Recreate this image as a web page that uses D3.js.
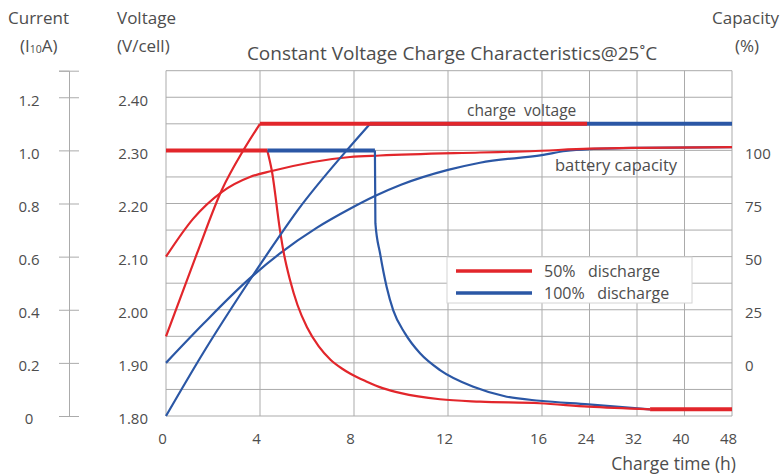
<!DOCTYPE html>
<html>
<head>
<meta charset="utf-8">
<script src="https://cdn.jsdelivr.net/npm/d3@7"></script>
<style>
  body { margin: 0; background: #fff; }
  text { font-family: "Open Sans", sans-serif; fill: #4d4d4d; }
</style>
</head>
<body>
<svg width="783" height="475"></svg>
<script>
// tick values
const timeTicks = [0, 4, 8, 12, 16, 24, 32, 40, 48]
const voltTicks = [1.8, 1.9, 2.0, 2.1, 2.2, 2.3, 2.4]
const voltGrid = [1.80, 1.85, 1.90, 1.95, 2.00, 2.05, 2.10, 2.15, 2.20, 2.25, 2.30, 2.35, 2.40, 2.45]
const currentTicks = [0, 0.2, 0.4, 0.6, 0.8, 1.0, 1.2, 1.3]
const capTicks = [0, 25, 50, 75, 100]

// [time h, value]
const redVoltage = [[0, 1.95], [1.31, 2.105], [2.37, 2.225], [3.29, 2.30], [4.0, 2.35]]
const redVoltageFlat = [[4.0, 2.35], [23.6, 2.35]]
const blueVoltage = [[0, 1.80], [1.6, 1.92], [3.57, 2.056], [4.85, 2.14], [5.6, 2.187], [7.69, 2.30], [8.68, 2.35]]
const blueVoltageFlat = [[8.68, 2.35], [48, 2.35]]

const redCurrentFlat = [[0, 1.0], [4.31, 1.0]]
const redCurrent = [[4.31, 1.0], [4.5, 0.925], [4.85, 0.70], [4.99, 0.624], [5.28, 0.511], [5.6, 0.417], [6.0, 0.334],
  [6.5, 0.262], [7.0, 0.212], [7.5, 0.178], [7.83, 0.16], [8.5, 0.131], [9.25, 0.104], [10, 0.086], [11.66, 0.063],
  [13.36, 0.054], [15.9, 0.048], [23.8, 0.035], [34.2, 0.025]]
const redCurrentTail = [[34.2, 0.025], [48, 0.025]]
const blueCurrentFlat = [[4.31, 1.0], [8.89, 1.0]]
const blueCurrent = [[8.89, 1.0], [8.91, 0.726], [9.11, 0.612], [9.39, 0.486], [9.67, 0.398], [10.17, 0.311],
  [10.81, 0.236], [11.66, 0.173], [13.08, 0.110], [14.5, 0.0726], [15.9, 0.0575], [23.8, 0.044], [34.2, 0.025]]

const redCapacity = [[0, 50], [1.16, 67.9], [2.37, 80.4], [3.57, 87.5], [4.5, 90.3], [7.83, 96.9], [9.1, 97.6],
  [13.36, 99.0], [15.5, 99.6], [24, 100.8], [32, 101.2], [48, 101.5]]
const blueCapacity = [[0, 0], [1.6, 18.5], [3.54, 39.5], [4.85, 51.5], [6.41, 63.5], [7.83, 72.5], [8.89, 78.5],
  [10, 83.8], [12, 90.8], [13.36, 94.2], [16, 97.8], [20, 99.7], [24, 100.6], [32, 101.2], [48, 101.5]]

const RED = "#e2262b", BLUE = "#2b57a5", GRID = "#ababab"

const svg = d3.select("svg")

const x = d3.scaleLinear().domain([0, 16, 48]).range([166, 542, 732])
const yV = d3.scaleLinear().domain([1.80, 2.45]).range([416, 70.7])
const yI = d3.scaleLinear().domain([0, 1.3]).range([416, 70.7])
const yC = d3.scaleLinear().domain([0, 100]).range([yV(1.9), yV(2.3)])

// grid
svg.append("g").selectAll("line").data(voltGrid).join("line")
  .attr("x1", x(0)).attr("x2", x(48))
  .attr("y1", d => yV(d)).attr("y2", d => yV(d))
  .attr("stroke", GRID).attr("stroke-width", 1)
svg.append("g").selectAll("line").data(timeTicks).join("line")
  .attr("x1", d => x(d)).attr("x2", d => x(d))
  .attr("y1", yV(1.8)).attr("y2", yV(2.45))
  .attr("stroke", GRID).attr("stroke-width", 1)

// axes
const curAxis = svg.append("g")
  .attr("transform", "translate(69,0)")
  .call(d3.axisLeft(yI).tickValues(currentTicks).tickSize(10).tickPadding(0)
    .tickFormat(d => d === 1.3 ? "" : (d === 0 ? "0" : d3.format(".1f")(d))))
curAxis.select(".domain").attr("stroke", GRID)
curAxis.selectAll(".tick line").attr("x1", -10).attr("x2", 10).attr("stroke", GRID)
curAxis.selectAll(".tick text").attr("x", -40).attr("text-anchor", "middle").attr("dy", "0.52em")
  .style("font-size", "15px")

const vAxis = svg.append("g")
  .attr("transform", `translate(${x(0)},0)`)
  .call(d3.axisLeft(yV).tickValues(voltTicks).tickSize(0).tickPadding(18).tickFormat(d3.format(".2f")))
vAxis.select(".domain").remove()
vAxis.selectAll(".tick text").attr("dy", "0.52em").style("font-size", "15px")

const cAxis = svg.append("g")
  .attr("transform", `translate(${x(48)},0)`)
  .call(d3.axisRight(yC).tickValues(capTicks).tickSize(0).tickPadding(13))
cAxis.select(".domain").remove()
cAxis.selectAll(".tick text").attr("dy", "0.52em").style("font-size", "15px")

const tAxis = svg.append("g")
  .attr("transform", `translate(0,${yV(1.8)})`)
  .call(d3.axisBottom(x).tickValues(timeTicks).tickSize(0).tickPadding(17))
tAxis.select(".domain").remove()
tAxis.selectAll(".tick text").attr("dx", -4).style("font-size", "15px")

svg.selectAll(".tick text").attr("fill", "#4d4d4d").style("font-family", "'Open Sans', sans-serif")

// curves
const lineV = d3.line().x(d => x(d[0])).y(d => yV(d[1])).curve(d3.curveMonotoneX)
const lineI = d3.line().x(d => x(d[0])).y(d => yI(d[1])).curve(d3.curveMonotoneX)
const lineC = d3.line().x(d => x(d[0])).y(d => yC(d[1])).curve(d3.curveMonotoneX)

const draw = (path, color, w) => svg.append("path")
  .attr("d", path).attr("fill", "none")
  .attr("stroke", color).attr("stroke-width", w)

draw(lineC(blueCapacity), BLUE, 2.2)
draw(lineC(redCapacity), RED, 2.2)
draw(lineI(blueCurrent), BLUE, 2.2)
draw(lineI(redCurrent), RED, 2.2)
draw(lineV(blueVoltage), BLUE, 2.2)
draw(lineV(redVoltage), RED, 2.2)
draw(lineV(blueVoltageFlat), BLUE, 4)
draw(lineV(redVoltageFlat), RED, 4)
draw(lineI(blueCurrentFlat), BLUE, 4)
draw(lineI(redCurrentFlat), RED, 4)
draw(lineI(redCurrentTail), RED, 4)

// legend
svg.append("rect")
  .attr("x", 447).attr("y", 257).attr("width", 245).attr("height", 46)
  .attr("fill", "#fff").attr("stroke", "#d4d4d4")
const legend = [{label: "50%   discharge", color: RED, y: 271}, {label: "100%   discharge", color: BLUE, y: 293}]
legend.forEach(l => {
  svg.append("line").attr("x1", 456).attr("x2", 532).attr("y1", l.y).attr("y2", l.y)
    .attr("stroke", l.color).attr("stroke-width", 3.5)
  svg.append("text").attr("x", 544).attr("y", l.y + 6).style("font-size", "16px")
    .style("white-space", "pre").text(l.label)
})

// labels
const label = (t, xx, yy, size, anchor) => svg.append("text")
  .attr("x", xx).attr("y", yy).attr("text-anchor", anchor || "start")
  .style("font-size", size + "px").style("white-space", "pre").text(t)

label("Constant Voltage Charge Characteristics@25˚C", 452, 60, 19, "middle")
label("Current", 8, 24, 17)
const ia = label("(I", 20, 52, 17)
ia.append("tspan").style("font-size", "10.5px").attr("dy", 1).text("10")
ia.append("tspan").attr("dy", -1).text("A)")
label("Voltage", 117, 24, 17)
label("(V/cell)", 117, 52, 17)
label("Capacity", 779, 24, 17, "end")
label("(%)", 747, 52, 17, "middle")
label("charge  voltage", 467, 116, 15.5)
label("battery capacity", 555, 171, 16.5)
label("Charge time (h)", 736, 470, 17.5, "end")
</script>
</body>
</html>
